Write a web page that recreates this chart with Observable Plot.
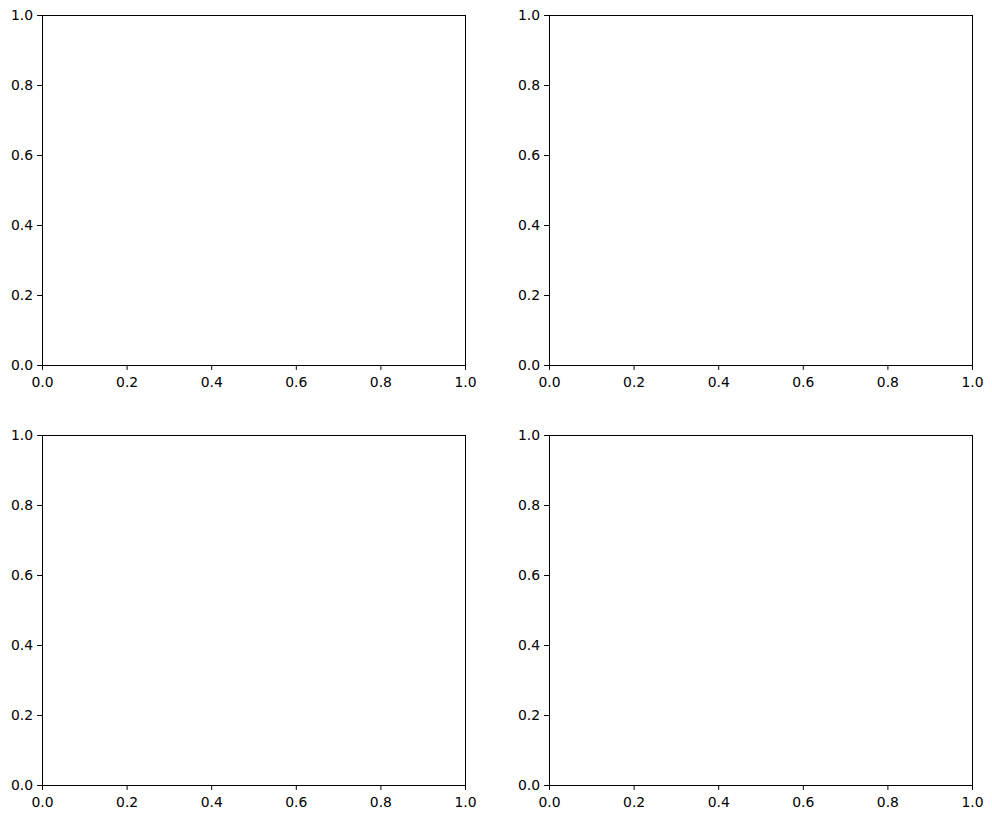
<!DOCTYPE html>
<html>
<head>
<meta charset="utf-8">
<script src="https://cdn.jsdelivr.net/npm/d3@7"></script>
<script src="https://cdn.jsdelivr.net/npm/@observablehq/plot@0.6"></script>
<style>
  html, body { margin: 0; padding: 0; background: #fff; }
  #fig { position: relative; width: 992px; height: 819px; background: #fff; font-family: "DejaVu Sans", sans-serif; }
  #fig svg { position: absolute; overflow: visible; }
</style>
</head>
<body>
<div id="fig"></div>
<script>
// Tick values shared by all axes
const tickValues = [0, 0.2, 0.4, 0.6, 0.8, 1.0];
const xDomain = [0, 1];
const yDomain = [0, 1];
// Panel grid (row, col)
const panelRows = [0, 0, 1, 1];
const panelCols = [0, 1, 0, 1];

const frameLeft = [42, 549];
const frameTop = [15, 435];
const frameW = 423, frameH = 350;
const mL = 45, mT = 15, mR = 20, mB = 35;

const fig = document.getElementById("fig");
panelRows.forEach((r, i) => {
  const c = panelCols[i];
  const chart = Plot.plot({
    width: frameW + mL + mR,
    height: frameH + mT + mB,
    marginLeft: mL, marginTop: mT, marginRight: mR, marginBottom: mB,
    style: { fontFamily: "DejaVu Sans, sans-serif", fontSize: "13.9px", color: "#000", background: "transparent", overflow: "visible" },
    x: { domain: xDomain },
    y: { domain: yDomain },
    marks: [
      Plot.axisX({ ticks: tickValues, tickFormat: d3.format(".1f"), tickSize: 4.9, tickPadding: 7, fontSize: 13.9, label: null, stroke: "#000", fill: "#000" }),
      Plot.axisY({ ticks: tickValues, tickFormat: d3.format(".1f"), tickSize: 4.9, tickPadding: 4.6, fontSize: 13.9, label: null, stroke: "#000", fill: "#000" }),
      Plot.frame({ stroke: "#000", strokeWidth: 1 })
    ]
  });
  chart.style.left = (frameLeft[c] - mL) + "px";
  chart.style.top = (frameTop[r] - mT) + "px";
  fig.appendChild(chart);
});
</script>
</body>
</html>
